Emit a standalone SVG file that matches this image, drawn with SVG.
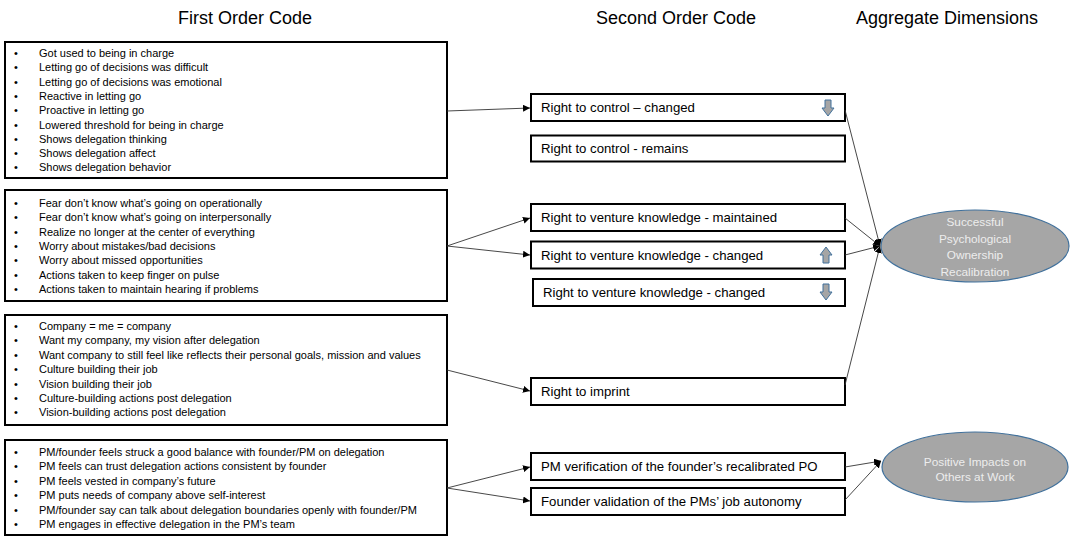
<svg xmlns="http://www.w3.org/2000/svg" width="1073" height="537" viewBox="0 0 1073 537">
<defs>
<style>
.hdr{font-family:"Liberation Sans",Arial,sans-serif;font-size:18px;fill:#000;text-anchor:middle}
.box{fill:#fff;stroke:#000;stroke-width:2}
.li{font-family:"Liberation Sans",Arial,sans-serif;font-size:11px;fill:#000}
.so{font-family:"Liberation Sans",Arial,sans-serif;font-size:13.2px;fill:#000}
.ell{fill:#a6a6a6;stroke:#41719c;stroke-width:1.2}
.et{font-family:"Liberation Sans",Arial,sans-serif;font-size:11.8px;fill:#ededed;text-anchor:middle}
.con{fill:none;stroke:#333;stroke-width:0.9;marker-end:url(#ah)}
.ico{fill:#a5a5a5;stroke:#41719c;stroke-width:1}
</style>
<marker id="ah" viewBox="0 0 10 10" refX="10" refY="5" markerWidth="7" markerHeight="7" markerUnits="userSpaceOnUse" orient="auto">
<path d="M0,0 L10,5 L0,10 z" fill="#000"/>
</marker>
<path id="down" d="M-3,-8 H3 V0 H6 L0,8 L-6,0 H-3 Z"/>
</defs>

<g id="headers">
<text class="hdr" x="245" y="24">First Order Code</text>
<text class="hdr" x="676" y="24">Second Order Code</text>
<text class="hdr" x="947" y="24">Aggregate Dimensions</text>
</g>

<g id="fo1">
<rect class="box" x="5" y="42" width="442" height="136"/>
<text class="li"><tspan x="14" y="57">•</tspan><tspan x="39" y="57">Got used to being in charge</tspan>
<tspan x="14" y="71.3">•</tspan><tspan x="39" y="71.3">Letting go of decisions was difficult</tspan>
<tspan x="14" y="85.6">•</tspan><tspan x="39" y="85.6">Letting go of decisions was emotional</tspan>
<tspan x="14" y="99.9">•</tspan><tspan x="39" y="99.9">Reactive in letting go</tspan>
<tspan x="14" y="114.2">•</tspan><tspan x="39" y="114.2">Proactive in letting go</tspan>
<tspan x="14" y="128.5">•</tspan><tspan x="39" y="128.5">Lowered threshold for being in charge</tspan>
<tspan x="14" y="142.8">•</tspan><tspan x="39" y="142.8">Shows delegation thinking</tspan>
<tspan x="14" y="157.1">•</tspan><tspan x="39" y="157.1">Shows delegation affect</tspan>
<tspan x="14" y="171.4">•</tspan><tspan x="39" y="171.4">Shows delegation behavior</tspan></text>
</g>

<g id="fo2">
<rect class="box" x="5" y="190" width="442" height="111"/>
<text class="li"><tspan x="14" y="207">•</tspan><tspan x="39" y="207">Fear don’t know what’s going on operationally</tspan>
<tspan x="14" y="221.3">•</tspan><tspan x="39" y="221.3">Fear don’t know what’s going on interpersonally</tspan>
<tspan x="14" y="235.6">•</tspan><tspan x="39" y="235.6">Realize no longer at the center of everything</tspan>
<tspan x="14" y="249.9">•</tspan><tspan x="39" y="249.9">Worry about mistakes/bad decisions</tspan>
<tspan x="14" y="264.2">•</tspan><tspan x="39" y="264.2">Worry about missed opportunities</tspan>
<tspan x="14" y="278.5">•</tspan><tspan x="39" y="278.5">Actions taken to keep finger on pulse</tspan>
<tspan x="14" y="292.8">•</tspan><tspan x="39" y="292.8">Actions taken to maintain hearing if problems</tspan></text>
</g>

<g id="fo3">
<rect class="box" x="5" y="315" width="442" height="110"/>
<text class="li"><tspan x="14" y="330">•</tspan><tspan x="39" y="330">Company = me = company</tspan>
<tspan x="14" y="344.4">•</tspan><tspan x="39" y="344.4">Want my company, my vision after delegation</tspan>
<tspan x="14" y="358.8">•</tspan><tspan x="39" y="358.8">Want company to still feel like reflects their personal goals, mission and values</tspan>
<tspan x="14" y="373.2">•</tspan><tspan x="39" y="373.2">Culture building their job</tspan>
<tspan x="14" y="387.6">•</tspan><tspan x="39" y="387.6">Vision building their job</tspan>
<tspan x="14" y="402">•</tspan><tspan x="39" y="402">Culture-building actions post delegation</tspan>
<tspan x="14" y="416.4">•</tspan><tspan x="39" y="416.4">Vision-building actions post delegation</tspan></text>
</g>

<g id="fo4">
<rect class="box" x="5" y="440" width="442" height="95"/>
<text class="li"><tspan x="14" y="455.5">•</tspan><tspan x="39" y="455.5">PM/founder feels struck a good balance with founder/PM on delegation</tspan>
<tspan x="14" y="470">•</tspan><tspan x="39" y="470">PM feels can trust delegation actions consistent by founder</tspan>
<tspan x="14" y="484.5">•</tspan><tspan x="39" y="484.5">PM feels vested in company’s future</tspan>
<tspan x="14" y="499">•</tspan><tspan x="39" y="499">PM puts needs of company above self-interest</tspan>
<tspan x="14" y="513.5">•</tspan><tspan x="39" y="513.5">PM/founder say can talk about delegation boundaries openly with founder/PM</tspan>
<tspan x="14" y="528">•</tspan><tspan x="39" y="528">PM engages in effective delegation in the PM’s team</tspan></text>
</g>

<g id="so1">
<rect class="box" x="531" y="94" width="314" height="27"/>
<text class="so" x="541" y="112">Right to control – changed</text>
<use href="#down" class="ico" x="828" y="108"/>
</g>
<g id="so2">
<rect class="box" x="531" y="135.5" width="314" height="26"/>
<text class="so" x="541" y="153">Right to control - remains</text>
</g>
<g id="so3">
<rect class="box" x="531" y="204" width="314" height="27"/>
<text class="so" x="541" y="222">Right to venture knowledge - maintained</text>
</g>
<g id="so4">
<rect class="box" x="531" y="241.5" width="314" height="27"/>
<text class="so" x="541" y="259.5">Right to venture knowledge - changed</text>
<use href="#down" class="ico" transform="translate(826,255) rotate(180)"/>
</g>
<g id="so5">
<rect class="box" x="533" y="279" width="312" height="27"/>
<text class="so" x="543" y="297">Right to venture knowledge - changed</text>
<use href="#down" class="ico" x="826" y="292"/>
</g>
<g id="so6">
<rect class="box" x="531" y="378" width="314" height="27"/>
<text class="so" x="541" y="396">Right to imprint</text>
</g>
<g id="so7">
<rect class="box" x="531" y="453" width="314" height="27"/>
<text class="so" x="541" y="471">PM verification of the founder’s recalibrated PO</text>
</g>
<g id="so8">
<rect class="box" x="531" y="488" width="314" height="27"/>
<text class="so" x="541" y="506">Founder validation of the PMs’ job autonomy</text>
</g>

<g id="ag1">
<ellipse class="ell" cx="975" cy="246" rx="94" ry="36"/>
<text class="et"><tspan x="975" y="226">Successful</tspan><tspan x="975" y="242.5">Psychological</tspan><tspan x="975" y="259">Ownership</tspan><tspan x="975" y="275.5">Recalibration</tspan></text>
</g>
<g id="ag2">
<ellipse class="ell" cx="975" cy="467" rx="93" ry="35"/>
<text class="et"><tspan x="975" y="466">Positive Impacts on</tspan><tspan x="975" y="481">Others at Work</tspan></text>
</g>

<g id="connectors">
<path class="con" d="M447,111 L530,108"/>
<path class="con" d="M447,246 L530,218"/>
<path class="con" d="M447,246 L530,255"/>
<path class="con" d="M447,370 L530,391"/>
<path class="con" d="M447,488 L530,467"/>
<path class="con" d="M447,488 L530,501"/>
<path class="con" d="M845,110 L880,246"/>
<path class="con" d="M845,218 L880,246"/>
<path class="con" d="M845,255 L880,246"/>
<path class="con" d="M845,385 L880,246"/>
<path class="con" d="M845,467 L881,461"/>
<path class="con" d="M845,500 L881,461"/>
</g>
</svg>
